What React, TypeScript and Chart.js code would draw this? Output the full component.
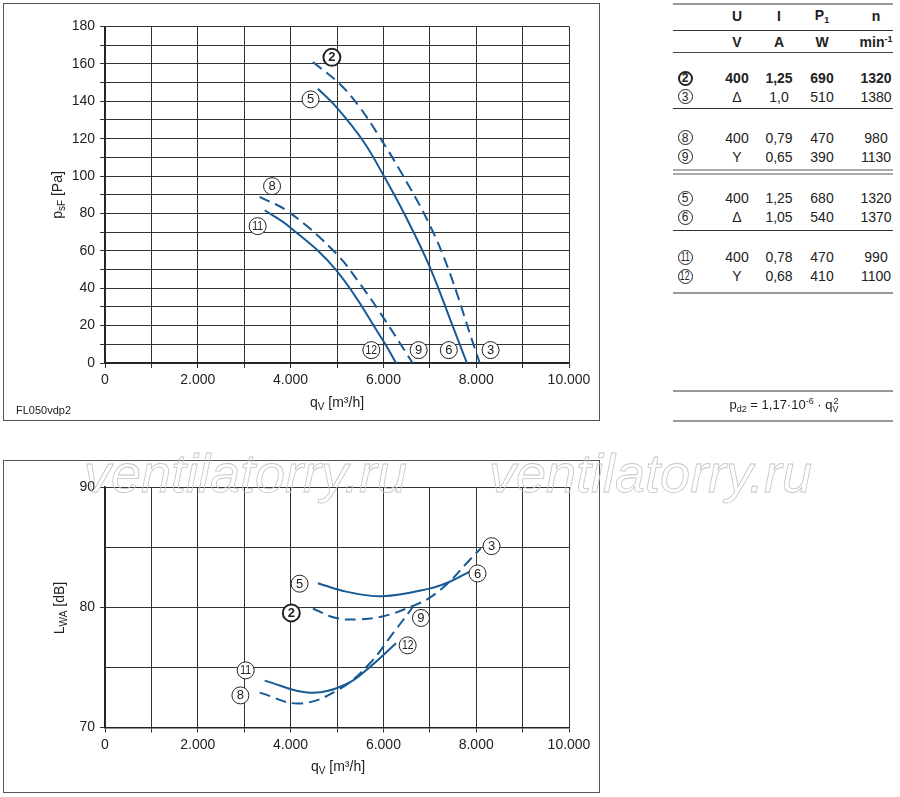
import React, { useEffect, useRef } from 'react';
import { Chart, registerables } from 'chart.js';

Chart.register(...registerables);

const FONT = '"Liberation Sans", Arial, Helvetica, sans-serif';
const BLUE = '#175a96';
const GRID = '#333333';

// ---------- Top chart: static pressure p_sF [Pa] vs q_V [m³/h] ----------
const topFlow3 = [4480, 5054, 5484, 5914, 6416, 6989, 7419, 7900, 8077];
const topPress3 = [161, 149.4, 137, 121, 100.5, 74.3, 49, 13, 0];
const topFlow6 = [4588, 4982, 5556, 6022, 6467, 6989, 7490, 7800];
const topPress6 = [146.7, 137, 119, 99.5, 79, 52, 20, 0];
const topFlow9 = [3333, 3978, 4982, 5520, 5914, 6630];
const topPress9 = [88.9, 80.5, 58.6, 41.5, 27.5, 0];
const topFlow12 = [3441, 3978, 4982, 5986, 6272];
const topPress12 = [81.7, 72.8, 49.7, 12.3, 0];

const topLabelNames = ['2', '5', '8', '11', '12', '9', '6', '3'];
const topLabelFlow = [4890, 4430, 3600, 3290, 5740, 6760, 7410, 8310];
const topLabelPress = [163.5, 141, 94.6, 73.2, 6.9, 6.9, 6.9, 6.9];

// ---------- Bottom chart: sound power L_WA [dB] vs q_V [m³/h] ----------
const botFlow3 = [4480, 4982, 5484, 6000, 6630, 7000, 7419, 7778, 8100];
const botLevel3 = [79.9, 79.1, 79.0, 79.25, 80.1, 80.8, 82.1, 83.6, 84.9];
const botFlow6 = [4588, 5197, 5986, 6989, 7419, 7849];
const botLevel6 = [82.0, 81.3, 80.92, 81.55, 82.1, 82.95];
const botFlow9 = [3333, 4194, 5054, 5699, 6201, 6630];
const botLevel9 = [72.9, 72.0, 73.2, 75.3, 77.8, 80.0];
const botFlow12 = [3441, 4409, 5197, 5699, 6272];
const botLevel12 = [73.9, 72.9, 73.6, 75.0, 77.0];

const botLabelNames = ['3', '6', '5', '2', '9', '12', '11', '8'];
const botLabelFlow = [8331, 8028, 4194, 4015, 6810, 6523, 3032, 2918];
const botLabelLevel = [85.08, 82.81, 81.96, 79.53, 79.11, 76.83, 74.75, 72.67];

// ---------- Table ----------
const tableRowIds = ['2', '3', '8', '9', '5', '6', '11', '12'];
const tableU = ['400', 'Δ', '400', 'Y', '400', 'Δ', '400', 'Y'];
const tableI = ['1,25', '1,0', '0,79', '0,65', '1,25', '1,05', '0,78', '0,68'];
const tableP = ['690', '510', '470', '390', '680', '540', '470', '410'];
const tableN = ['1320', '1380', '980', '1130', '1320', '1370', '990', '1100'];
const tableRowY = [78, 96.5, 137.5, 156.5, 198, 217, 257, 276];

const xTickValues = [0, 2000, 4000, 6000, 8000, 10000];

function fmtFlow(v: number): string {
  if (!xTickValues.includes(v)) return '';
  if (v === 0) return '0';
  return (v / 1000).toFixed(3);
}

const circledLabelsPlugin = {
  id: 'circledLabels',
  afterDatasetsDraw(chart: any, _args: any, opts: any) {
    const { ctx } = chart;
    const xs = chart.scales.x;
    const ys = chart.scales.y;
    const names: string[] = opts.names || [];
    const fx: number[] = opts.xs || [];
    const fy: number[] = opts.ys || [];
    ctx.save();
    names.forEach((t, i) => {
      const px = xs.getPixelForValue(fx[i]);
      const py = ys.getPixelForValue(fy[i]);
      const bold = t === '2';
      ctx.beginPath();
      ctx.arc(px, py, 8.5, 0, Math.PI * 2);
      ctx.fillStyle = '#ffffff';
      ctx.fill();
      ctx.lineWidth = bold ? 2 : 1;
      ctx.strokeStyle = '#222';
      ctx.stroke();
      ctx.fillStyle = '#222';
      ctx.textAlign = 'center';
      ctx.textBaseline = 'middle';
      if (t.length > 1) {
        ctx.save();
        ctx.translate(px, py + 0.5);
        ctx.scale(0.8, 1);
        ctx.font = `13px ${FONT}`;
        ctx.fillText(t, 0, 0);
        ctx.restore();
      } else {
        ctx.font = `${bold ? 'bold ' : ''}13px ${FONT}`;
        ctx.fillText(t, px, py + 0.5);
      }
    });
    ctx.restore();
  },
};

function ds(xs: number[], ys: number[], dashed: boolean) {
  return {
    data: xs.map((x, i) => ({ x, y: ys[i] })),
    borderColor: BLUE,
    borderWidth: 2,
    borderDash: dashed ? [11, 6] : [],
    pointRadius: 0,
    fill: false,
    tension: 0.4,
    cubicInterpolationMode: 'default',
  };
}

function makeConfig(opts: {
  datasets: any[];
  yMin: number;
  yMax: number;
  yStep: number;
  yLabelEvery: number;
  yTickOnlyLabeled: boolean;
  padTop: number;
  xAxisH: number;
  names: string[];
  lx: number[];
  ly: number[];
}): any {
  const tickFont = { family: FONT, size: 14 };
  return {
    type: 'line',
    data: { datasets: opts.datasets },
    options: {
      animation: false,
      responsive: true,
      maintainAspectRatio: false,
      layout: { padding: { top: opts.padTop, right: 31, left: 0, bottom: 0 } },
      plugins: {
        legend: { display: false },
        tooltip: { enabled: false },
        circledLabels: { names: opts.names, xs: opts.lx, ys: opts.ly },
      },
      scales: {
        x: {
          type: 'linear',
          min: 0,
          max: 10000,
          afterFit: (s: any) => {
            s.height = opts.xAxisH;
          },
          ticks: {
            stepSize: 1000,
            autoSkip: false,
            maxRotation: 0,
            padding: 4,
            color: '#222',
            font: tickFont,
            callback: (v: any) => fmtFlow(Number(v)),
          },
          grid: { color: GRID, lineWidth: 1, tickLength: 5, tickColor: GRID },
          border: { color: '#222', width: 1.5 },
        },
        y: {
          type: 'linear',
          min: opts.yMin,
          max: opts.yMax,
          afterFit: (s: any) => {
            s.width = 105;
          },
          ticks: {
            stepSize: opts.yStep,
            autoSkip: false,
            padding: 5,
            color: '#222',
            font: tickFont,
            callback: (v: any) =>
              Math.round(Number(v)) % opts.yLabelEvery === 0 ? String(v) : '',
          },
          grid: {
            color: GRID,
            lineWidth: 1,
            tickLength: 5,
            tickColor: (c: any) =>
              !opts.yTickOnlyLabeled || (c.tick && c.tick.value % opts.yLabelEvery === 0)
                ? GRID
                : 'rgba(0,0,0,0)',
          },
          border: { color: '#222', width: 1.5 },
        },
      },
    },
    plugins: [circledLabelsPlugin],
  };
}

function ChartBox(props: { config: any; left: number; top: number; width: number; height: number }) {
  const ref = useRef<HTMLCanvasElement | null>(null);
  useEffect(() => {
    if (!ref.current) return;
    const chart = new Chart(ref.current, props.config);
    return () => chart.destroy();
  }, []);
  return (
    <div
      style={{
        position: 'absolute',
        left: props.left,
        top: props.top,
        width: props.width,
        height: props.height,
      }}
    >
      <canvas ref={ref} />
    </div>
  );
}

const abs = (l: number, t: number, extra: React.CSSProperties = {}): React.CSSProperties => ({
  position: 'absolute',
  left: l,
  top: t,
  ...extra,
});

function Centered(props: { x: number; y: number; children: any; style?: React.CSSProperties }) {
  return (
    <div
      style={{
        position: 'absolute',
        left: props.x,
        top: props.y,
        transform: 'translate(-50%, -50%)',
        whiteSpace: 'nowrap',
        lineHeight: 1,
        ...(props.style || {}),
      }}
    >
      {props.children}
    </div>
  );
}

function Circled(props: { x: number; y: number; t: string }) {
  const bold = props.t === '2';
  const two = props.t.length > 1;
  return (
    <div
      style={{
        position: 'absolute',
        left: props.x - 7.5,
        top: props.y - 7.5,
        width: 15,
        height: 15,
        boxSizing: 'border-box',
        borderRadius: '50%',
        border: `${bold ? 2 : 1}px solid #222`,
        display: 'flex',
        alignItems: 'center',
        justifyContent: 'center',
        fontSize: 12,
        fontWeight: bold ? 'bold' : 'normal',
        color: '#222',
      }}
    >
      <span style={{ display: 'inline-block', transform: two ? 'scaleX(0.72)' : 'none', lineHeight: 1 }}>
        {props.t}
      </span>
    </div>
  );
}

function HLine(props: { y: number; w?: number; c?: string }) {
  return (
    <div
      style={abs(673, props.y - (props.w || 1) / 2, {
        width: 220,
        height: props.w || 1,
        background: props.c || '#333',
      })}
    />
  );
}

export default function App() {
  const topConfig = makeConfig({
    datasets: [
      ds(topFlow3, topPress3, true),
      ds(topFlow6, topPress6, false),
      ds(topFlow9, topPress9, true),
      ds(topFlow12, topPress12, false),
    ],
    yMin: 0,
    yMax: 180,
    yStep: 10,
    yLabelEvery: 20,
    yTickOnlyLabeled: false,
    padTop: 26.5,
    xAxisH: 57,
    names: topLabelNames,
    lx: topLabelFlow,
    ly: topLabelPress,
  });
  const botConfig = makeConfig({
    datasets: [
      ds(botFlow3, botLevel3, true),
      ds(botFlow6, botLevel6, false),
      ds(botFlow9, botLevel9, true),
      ds(botFlow12, botLevel12, false),
    ],
    yMin: 70,
    yMax: 90,
    yStep: 5,
    yLabelEvery: 10,
    yTickOnlyLabeled: true,
    padTop: 47,
    xAxisH: 64.5,
    names: botLabelNames,
    lx: botLabelFlow,
    ly: botLabelLevel,
  });

  const titleStyle: React.CSSProperties = { fontSize: 14, color: '#222' };
  const sub: React.CSSProperties = { fontSize: 10, verticalAlign: '-3px' };
  const cellStyle: React.CSSProperties = { fontSize: 14, color: '#222' };
  const colX = [737, 779, 822, 876];

  return (
    <div
      style={{
        position: 'absolute',
        left: 0,
        top: 0,
        width: 900,
        height: 797,
        background: '#fff',
        fontFamily: FONT,
        overflow: 'hidden',
      }}
    >
      {/* chart frames */}
      <div style={abs(3, 3, { width: 597, height: 418, border: '1.5px solid #555', boxSizing: 'border-box' })} />
      <div style={abs(3, 459.5, { width: 597, height: 333, border: '1.5px solid #555', boxSizing: 'border-box' })} />

      <ChartBox config={topConfig} left={0} top={0} width={600} height={420} />
      <ChartBox config={botConfig} left={0} top={440} width={600} height={352} />

      {/* axis titles */}
      <Centered x={58} y={195} style={{ ...titleStyle, transform: 'translate(-50%, -50%) rotate(-90deg)' }}>
        p<span style={sub}>sF</span> [Pa]
      </Centered>
      <Centered x={337} y={403} style={titleStyle}>
        q<span style={sub}>V</span> [m³/h]
      </Centered>
      <Centered x={60} y={608} style={{ ...titleStyle, transform: 'translate(-50%, -50%) rotate(-90deg)' }}>
        L<span style={sub}>WA</span> [dB]
      </Centered>
      <Centered x={338} y={767} style={titleStyle}>
        q<span style={sub}>V</span> [m³/h]
      </Centered>
      <div style={abs(16, 405, { fontSize: 11, color: '#222', lineHeight: 1 })}>FL050vdp2</div>

      {/* table */}
      <HLine y={3.5} w={2} c="#999" />
      <HLine y={30} w={1} c="#333" />
      <HLine y={52.5} w={1} c="#444" />
      <HLine y={108} w={1} c="#333" />
      <HLine y={170} w={2} c="#aaa" />
      <HLine y={173.5} w={2} c="#aaa" />
      <HLine y={230} w={1} c="#333" />
      <HLine y={292.5} w={2} c="#999" />

      <Centered x={colX[0]} y={16} style={{ ...cellStyle, fontWeight: 'bold' }}>U</Centered>
      <Centered x={colX[1]} y={16} style={{ ...cellStyle, fontWeight: 'bold' }}>I</Centered>
      <Centered x={colX[2]} y={16} style={{ ...cellStyle, fontWeight: 'bold' }}>
        P<span style={{ fontSize: 9, verticalAlign: '-3px' }}>1</span>
      </Centered>
      <Centered x={colX[3]} y={16} style={{ ...cellStyle, fontWeight: 'bold' }}>n</Centered>
      <Centered x={colX[0]} y={42} style={{ ...cellStyle, fontWeight: 'bold' }}>V</Centered>
      <Centered x={colX[1]} y={42} style={{ ...cellStyle, fontWeight: 'bold' }}>A</Centered>
      <Centered x={colX[2]} y={42} style={{ ...cellStyle, fontWeight: 'bold' }}>W</Centered>
      <Centered x={colX[3]} y={42} style={{ ...cellStyle, fontWeight: 'bold' }}>
        min<span style={{ fontSize: 9, verticalAlign: '5px' }}>-1</span>
      </Centered>

      {tableRowIds.map((id, i) => {
        const y = tableRowY[i];
        const st = { ...cellStyle, fontWeight: id === '2' ? 'bold' : 'normal' } as React.CSSProperties;
        return (
          <React.Fragment key={id}>
            <Circled x={685} y={y} t={id} />
            <Centered x={colX[0]} y={y} style={st}>{tableU[i]}</Centered>
            <Centered x={colX[1]} y={y} style={st}>{tableI[i]}</Centered>
            <Centered x={colX[2]} y={y} style={st}>{tableP[i]}</Centered>
            <Centered x={colX[3]} y={y} style={st}>{tableN[i]}</Centered>
          </React.Fragment>
        );
      })}

      <HLine y={391} w={2} c="#999" />
      <HLine y={421} w={2} c="#999" />
      <Centered x={784} y={405} style={{ fontSize: 13, color: '#222' }}>
        p<span style={{ fontSize: 9, verticalAlign: '-3px' }}>d2</span> = 1,17·10
        <span style={{ fontSize: 9, verticalAlign: '5px' }}>-6</span> · q
        <span style={{ fontSize: 9, verticalAlign: '-3px' }}>V</span>
        <span style={{ fontSize: 9, verticalAlign: '5px', marginLeft: -5 }}>2</span>
      </Centered>

      {/* watermark */}
      {[84, 489].map((l) => (
        <div
          key={l}
          style={abs(l, 446, {
            fontSize: 54,
            lineHeight: '54px',
            fontStyle: 'italic',
            color: 'transparent',
            WebkitTextStroke: '0.8px #c4c4c4',
            whiteSpace: 'nowrap',
            pointerEvents: 'none',
            fontFamily: '"Liberation Sans", Arial, sans-serif',
          } as React.CSSProperties)}
        >
          ventilatorry.ru
        </div>
      ))}
    </div>
  );
}
